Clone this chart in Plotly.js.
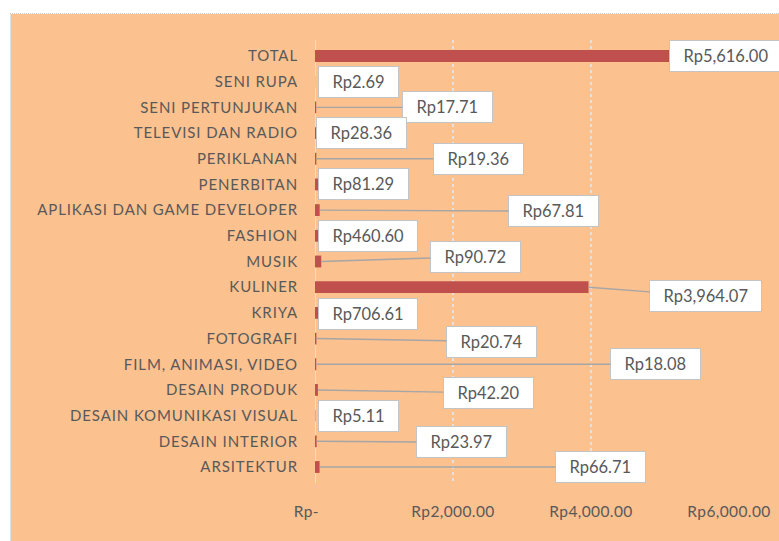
<!DOCTYPE html>
<html>
<head>
<meta charset="utf-8">
<script src="https://cdn.plot.ly/plotly-3.0.1.min.js"></script>
<style>
  html, body { margin: 0; padding: 0; background: #ffffff; width: 779px; height: 541px; overflow: hidden; }
  #frame { position: absolute; left: 10px; top: 13px; width: 769px; height: 528px;
           border-top: 1px dotted #c8c8c8; border-left: 1px solid #e2e2e2; box-sizing: border-box; }
  #chart { width: 768px; height: 527px; }
  .ytick text { letter-spacing: 0.9px; }
  .xtick text { letter-spacing: 0.4px; }
</style>
</head>
<body>
<div id="frame"><div id="chart"></div></div>
<script>
// ---- data ----
const categories = [
  "TOTAL", "SENI RUPA", "SENI PERTUNJUKAN", "TELEVISI DAN RADIO", "PERIKLANAN",
  "PENERBITAN", "APLIKASI DAN GAME DEVELOPER", "FASHION", "MUSIK", "KULINER",
  "KRIYA", "FOTOGRAFI", "FILM, ANIMASI, VIDEO", "DESAIN PRODUK",
  "DESAIN KOMUNIKASI VISUAL", "DESAIN INTERIOR", "ARSITEKTUR"
];
const values = [
  5616.00, 2.69, 17.71, 28.36, 19.36,
  81.29, 67.81, 460.60, 90.72, 3964.07,
  706.61, 20.74, 18.08, 42.20,
  5.11, 23.97, 66.71
];
const xTickValues = [0, 2000, 4000, 6000];
const xTickLabels = ["Rp-", "Rp2,000.00", "Rp4,000.00", "Rp6,000.00"];

// ---- label callout placement (layout only) ----
const labelBoxX = [5956, 625, 1918, 668, 2368, 697, 3458, 770, 2324, 5666, 770, 2557, 4939, 2513, 625, 2121, 4140];
const labelBoxDy = [0, 0, 0, 0, 0, 0, 1, 0, -5, 9, 1, 3, 0, 3, 0, 1, 0];

function fmt(v) {
  return "Rp" + v.toLocaleString("en-US", {minimumFractionDigits: 2, maximumFractionDigits: 2});
}

const plotW = 414, xMax = 6000;
const pxPerUnit = plotW / xMax;
const NB = "\u00a0\u00a0";

const annotations = values.map((v, i) => {
  const txt = fmt(v);
  const halfW = (txt.length * 9 + 30) / 2;
  const boxLeftPx = labelBoxX[i] * pxPerUnit - halfW;
  const barEndPx = v * pxPerUnit;
  const leader = boxLeftPx > barEndPx + 1;
  return {
    x: v, y: categories[i], xref: "x", yref: "y",
    ax: labelBoxX[i], axref: "x", ay: labelBoxDy[i], ayref: "pixel",
    text: NB + txt + NB, showarrow: true, arrowhead: 0, arrowwidth: 1.4,
    arrowcolor: leader ? "#a6a6a6" : "rgba(0,0,0,0)",
    bgcolor: "#ffffff", bordercolor: "#c4c4c4", borderwidth: 1, borderpad: 5,
    height: 20,
    font: {family: "Lato, 'Open Sans', sans-serif", size: 16.5, color: "#595959"}
  };
});

const trace = {
  type: "bar", orientation: "h",
  x: values, y: categories,
  marker: {color: "#C0504D"},
  hoverinfo: "none"
};

const layout = {
  width: 768, height: 527,
  margin: {l: 304, r: 50, t: 26, b: 58, pad: 0},
  paper_bgcolor: "#FBC18F", plot_bgcolor: "#FBC18F",
  bargap: 0.54,
  showlegend: false,
  xaxis: {
    range: [0, xMax], tickvals: xTickValues,
    ticktext: xTickLabels.map((t, i) => i === 0 ? t + "\u00a0\u00a0\u00a0\u00a0" : t),
    showgrid: true, gridcolor: "#e2e2e2", griddash: "dot", gridwidth: 1.3,
    zeroline: false, showline: false, ticks: "", ticklabelstandoff: 17,
    tickfont: {family: "Lato, 'Open Sans', sans-serif", size: 15.5, color: "#595959"},
    fixedrange: true
  },
  yaxis: {
    type: "category", autorange: "reversed",
    showgrid: false, zeroline: false, showline: false, ticks: "",
    ticklabelstandoff: 16,
    tickfont: {family: "Lato, 'Open Sans', sans-serif", size: 15, color: "#595959"},
    fixedrange: true
  },
  shapes: [{
    type: "line", xref: "x", yref: "paper", x0: 0, x1: 0, y0: 0, y1: 1,
    line: {color: "#e6e6e6", width: 1.5}, layer: "below"
  }],
  annotations: annotations
};

Plotly.newPlot("chart", [trace], layout, {displayModeBar: false, staticPlot: true});
</script>
</body>
</html>
